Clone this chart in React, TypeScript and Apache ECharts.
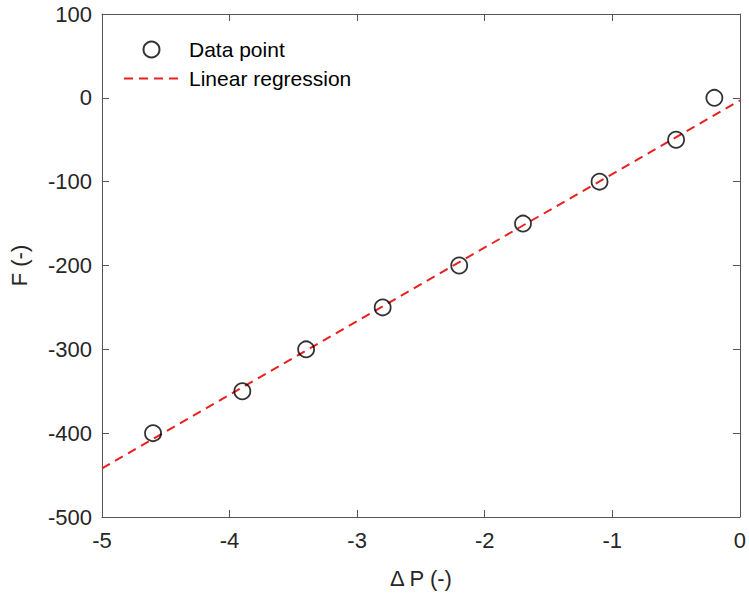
import React, { useEffect, useRef } from "react";
import * as echarts from "echarts";

const deltaP = [-4.6, -3.9, -3.4, -2.8, -2.2, -1.7, -1.1, -0.5, -0.2];
const forceF = [-400, -350, -300, -250, -200, -150, -100, -50, 0];
const regX = [-5, 0];
const regY = [-442, -3];
const xTicks = { min: -5, max: 0, interval: 1 };
const yTicks = { min: -500, max: 100, interval: 100 };

const TXT = "#262626";
const AX = "#555555";
const RED = "#e8201f";
const FONT = "'Liberation Sans', Arial, Helvetica, sans-serif";

export default function App() {
  const ref = useRef<HTMLDivElement>(null);
  useEffect(() => {
    if (!ref.current) return;
    const chart = echarts.init(ref.current, undefined, { renderer: "svg" });
    const axisCommon = {
      type: "value" as const,
      splitLine: { show: false },
      axisLine: { show: true, onZero: false, lineStyle: { color: AX, width: 1 } },
      axisTick: { show: true, inside: true, length: 7, lineStyle: { color: AX } },
    };
    chart.setOption({
      animation: false,
      backgroundColor: "#ffffff",
      textStyle: { fontFamily: FONT },
      grid: { left: 102, top: 14, right: 3, bottom: 79, containLabel: false },
      legend: {
        orient: "vertical",
        left: 118,
        top: 34,
        itemWidth: 55,
        itemHeight: 16,
        itemGap: 8,
        textStyle: { fontSize: 21, color: "#000", fontFamily: FONT, padding: [0, 0, 0, 5] },
        data: [
          { name: "Data point" },
          { name: "Linear regression", itemStyle: { opacity: 0 } },
        ],
      },
      xAxis: [
        {
          ...axisCommon,
          ...xTicks,
          position: "bottom",
          axisLabel: { fontSize: 22, color: TXT, margin: 12, fontFamily: FONT },
          name: "Δ P (-)",
          nameLocation: "middle",
          nameGap: 50,
          nameTextStyle: { fontSize: 22, color: TXT, fontFamily: FONT },
        },
        {
          ...axisCommon,
          ...xTicks,
          position: "top",
          axisLabel: { show: false },
        },
      ],
      yAxis: [
        {
          ...axisCommon,
          ...yTicks,
          position: "left",
          axisLabel: { fontSize: 22, color: TXT, margin: 10, fontFamily: FONT },
          name: "F (-)",
          nameLocation: "middle",
          nameGap: 72,
          nameTextStyle: { fontSize: 22, color: TXT, fontFamily: FONT },
        },
        {
          ...axisCommon,
          ...yTicks,
          position: "right",
          axisLabel: { show: false },
        },
      ],
      series: [
        {
          name: "Data point",
          type: "scatter",
          xAxisIndex: 0,
          yAxisIndex: 0,
          symbol: "circle",
          symbolSize: 16,
          itemStyle: { color: "rgba(255,255,255,0)", borderColor: "#000", borderWidth: 1.8 },
          data: deltaP.map((x, i) => [x, forceF[i]]),
          z: 3,
        },
        {
          name: "Linear regression",
          type: "line",
          xAxisIndex: 0,
          yAxisIndex: 0,
          symbol: "none",
          lineStyle: { color: RED, width: 2, type: [9, 6] },
          itemStyle: { color: RED },
          data: regX.map((x, i) => [x, regY[i]]),
          z: 2,
        },
      ],
    });
    return () => chart.dispose();
  }, []);
  return (
    <div
      ref={ref}
      style={{ position: "absolute", left: 0, top: 0, width: 749, height: 596 }}
    />
  );
}
